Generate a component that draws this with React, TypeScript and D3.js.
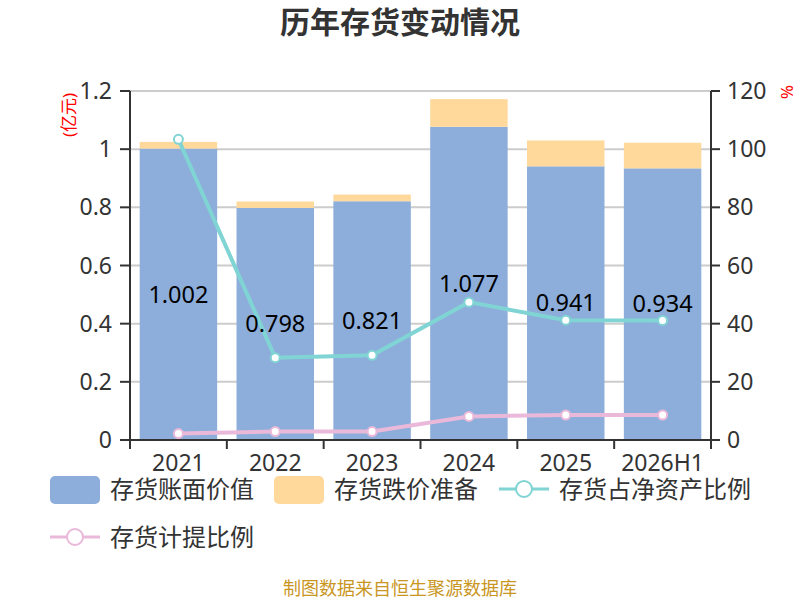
import React from 'react';
import * as d3 from 'd3';

const years = ['2021', '2022', '2023', '2024', '2025', '2026H1'];
const bookValue = [1.002, 0.798, 0.821, 1.077, 0.941, 0.934];
const provision = [0.023, 0.022, 0.023, 0.095, 0.089, 0.088];
const netAssetRatio = [103.4, 28.3, 29.1, 47.4, 41.2, 41.1];
const provisionRatio = [2.2, 2.9, 2.9, 8.1, 8.6, 8.6];
const leftTicks = [0, 0.2, 0.4, 0.6, 0.8, 1, 1.2];
const rightTicks = [0, 20, 40, 60, 80, 100, 120];

const W = 800;
const H = 600;
const margin = { left: 130, right: 89, top: 91, bottom: 160 };
const FONT = '"Noto Sans", "Noto Sans CJK SC", sans-serif';

const BLUE = '#8daedb';
const ORANGE = '#ffd99b';
const CYAN = '#80d4d4';
const PINK = '#eab9da';
const AXIS = '#333';

export default function App() {
  const x0 = margin.left;
  const x1 = W - margin.right;
  const yBottom = H - margin.bottom;

  const x = d3.scaleBand<string>().domain(years).range([x0, x1]).paddingInner(0.2).paddingOuter(0.1);
  const band = d3.scaleBand<string>().domain(years).range([x0, x1]);
  const yL = d3.scaleLinear().domain([0, 1.2]).range([yBottom, margin.top]);
  const yR = d3.scaleLinear().domain([0, 120]).range([yBottom, margin.top]);
  const cx = (d: string) => band(d)! + band.bandwidth() / 2;

  const line = d3
    .line<number>()
    .x((_, i) => cx(years[i]))
    .y((d) => yR(d));

  const boundaries = years.map((d) => band(d)!).concat([x1]);

  return (
    <svg width={W} height={H} style={{ position: 'absolute', left: 0, top: 0 }} fontFamily={FONT}>
      <rect width={W} height={H} fill="#fff" />
      <text x={W / 2} y={33} textAnchor="middle" fontSize={30} fontWeight="bold" fill="#333">
        历年存货变动情况
      </text>

      {/* grid */}
      {leftTicks.map((t) => (
        <line key={`g-${t}`} x1={x0} x2={x1} y1={yL(t)} y2={yL(t)} stroke="#ccc" strokeWidth={2} />
      ))}

      {/* bars */}
      {years.map((d, i) => (
        <g key={`b-${d}`}>
          <rect
            x={x(d)}
            width={x.bandwidth()}
            y={yL(bookValue[i])}
            height={yBottom - yL(bookValue[i])}
            fill={BLUE}
          />
          <rect
            x={x(d)}
            width={x.bandwidth()}
            y={yL(bookValue[i] + provision[i])}
            height={yL(bookValue[i]) - yL(bookValue[i] + provision[i])}
            fill={ORANGE}
          />
        </g>
      ))}

      {/* lines */}
      <path d={line(netAssetRatio)!} fill="none" stroke={CYAN} strokeWidth={4} />
      <path d={line(provisionRatio)!} fill="none" stroke={PINK} strokeWidth={4} />
      {netAssetRatio.map((v, i) => (
        <circle key={`c1-${i}`} cx={cx(years[i])} cy={yR(v)} r={4.5} fill="#fff" stroke={CYAN} strokeWidth={2} />
      ))}
      {provisionRatio.map((v, i) => (
        <circle key={`c2-${i}`} cx={cx(years[i])} cy={yR(v)} r={4.5} fill="#fff" stroke={PINK} strokeWidth={2} />
      ))}

      {/* bar labels */}
      {years.map((d, i) => (
        <text
          key={`l-${d}`}
          x={cx(d)}
          y={(yL(bookValue[i]) + yBottom) / 2}
          dy="0.35em"
          textAnchor="middle"
          fontSize={23.5}
          fill="#000"
        >
          {bookValue[i].toFixed(3)}
        </text>
      ))}

      {/* left axis */}
      <line x1={x0} x2={x0} y1={margin.top} y2={yBottom} stroke={AXIS} strokeWidth={2} />
      {leftTicks.map((t) => (
        <g key={`lt-${t}`}>
          <line x1={x0 - 10} x2={x0} y1={yL(t)} y2={yL(t)} stroke={AXIS} strokeWidth={2} />
          <text x={x0 - 18} y={yL(t)} dy="0.35em" textAnchor="end" fontSize={23} fill="#333">
            {t}
          </text>
        </g>
      ))}
      <text
        transform={`translate(75,115) rotate(-90)`}
        textAnchor="middle"
        fontSize={17}
        fill="red"
      >
        (亿元)
      </text>

      {/* right axis */}
      <line x1={x1} x2={x1} y1={margin.top} y2={yBottom} stroke={AXIS} strokeWidth={2} />
      {rightTicks.map((t) => (
        <g key={`rt-${t}`}>
          <line x1={x1} x2={x1 + 9} y1={yR(t)} y2={yR(t)} stroke={AXIS} strokeWidth={2} />
          <text x={x1 + 16} y={yR(t)} dy="0.35em" textAnchor="start" fontSize={23} fill="#333">
            {t}
          </text>
        </g>
      ))}
      <text transform={`translate(781,92) rotate(90)`} textAnchor="middle" fontSize={17} fill="red">
        %
      </text>

      {/* bottom axis */}
      <line x1={x0} x2={x1} y1={yBottom} y2={yBottom} stroke={AXIS} strokeWidth={2} />
      {boundaries.map((b, i) => (
        <line key={`bt-${i}`} x1={b} x2={b} y1={yBottom} y2={yBottom + 9} stroke={AXIS} strokeWidth={2} />
      ))}
      {years.map((d) => (
        <text key={`xl-${d}`} x={cx(d)} y={471} textAnchor="middle" fontSize={23} fill="#333">
          {d}
        </text>
      ))}

      {/* legend */}
      <g fontSize={24} fill="#333">
        <rect x={50} y={476} width={50} height={28} rx={5} fill={BLUE} />
        <text x={110} y={490} dy="0.35em">存货账面价值</text>
        <rect x={274} y={476} width={50} height={28} rx={5} fill={ORANGE} />
        <text x={334} y={490} dy="0.35em">存货跌价准备</text>
        <line x1={499} x2={549} y1={489} y2={489} stroke={CYAN} strokeWidth={3} />
        <circle cx={524} cy={489} r={8} fill="#fff" stroke={CYAN} strokeWidth={2} />
        <text x={559} y={490} dy="0.35em">存货占净资产比例</text>
        <line x1={50} x2={100} y1={537} y2={537} stroke={PINK} strokeWidth={3} />
        <circle cx={75} cy={537} r={8} fill="#fff" stroke={PINK} strokeWidth={2} />
        <text x={110} y={538} dy="0.35em">存货计提比例</text>
      </g>

      <text x={W / 2} y={589} dy="0.35em" textAnchor="middle" fontSize={18} fill="#c9961f">
        制图数据来自恒生聚源数据库
      </text>
    </svg>
  );
}
